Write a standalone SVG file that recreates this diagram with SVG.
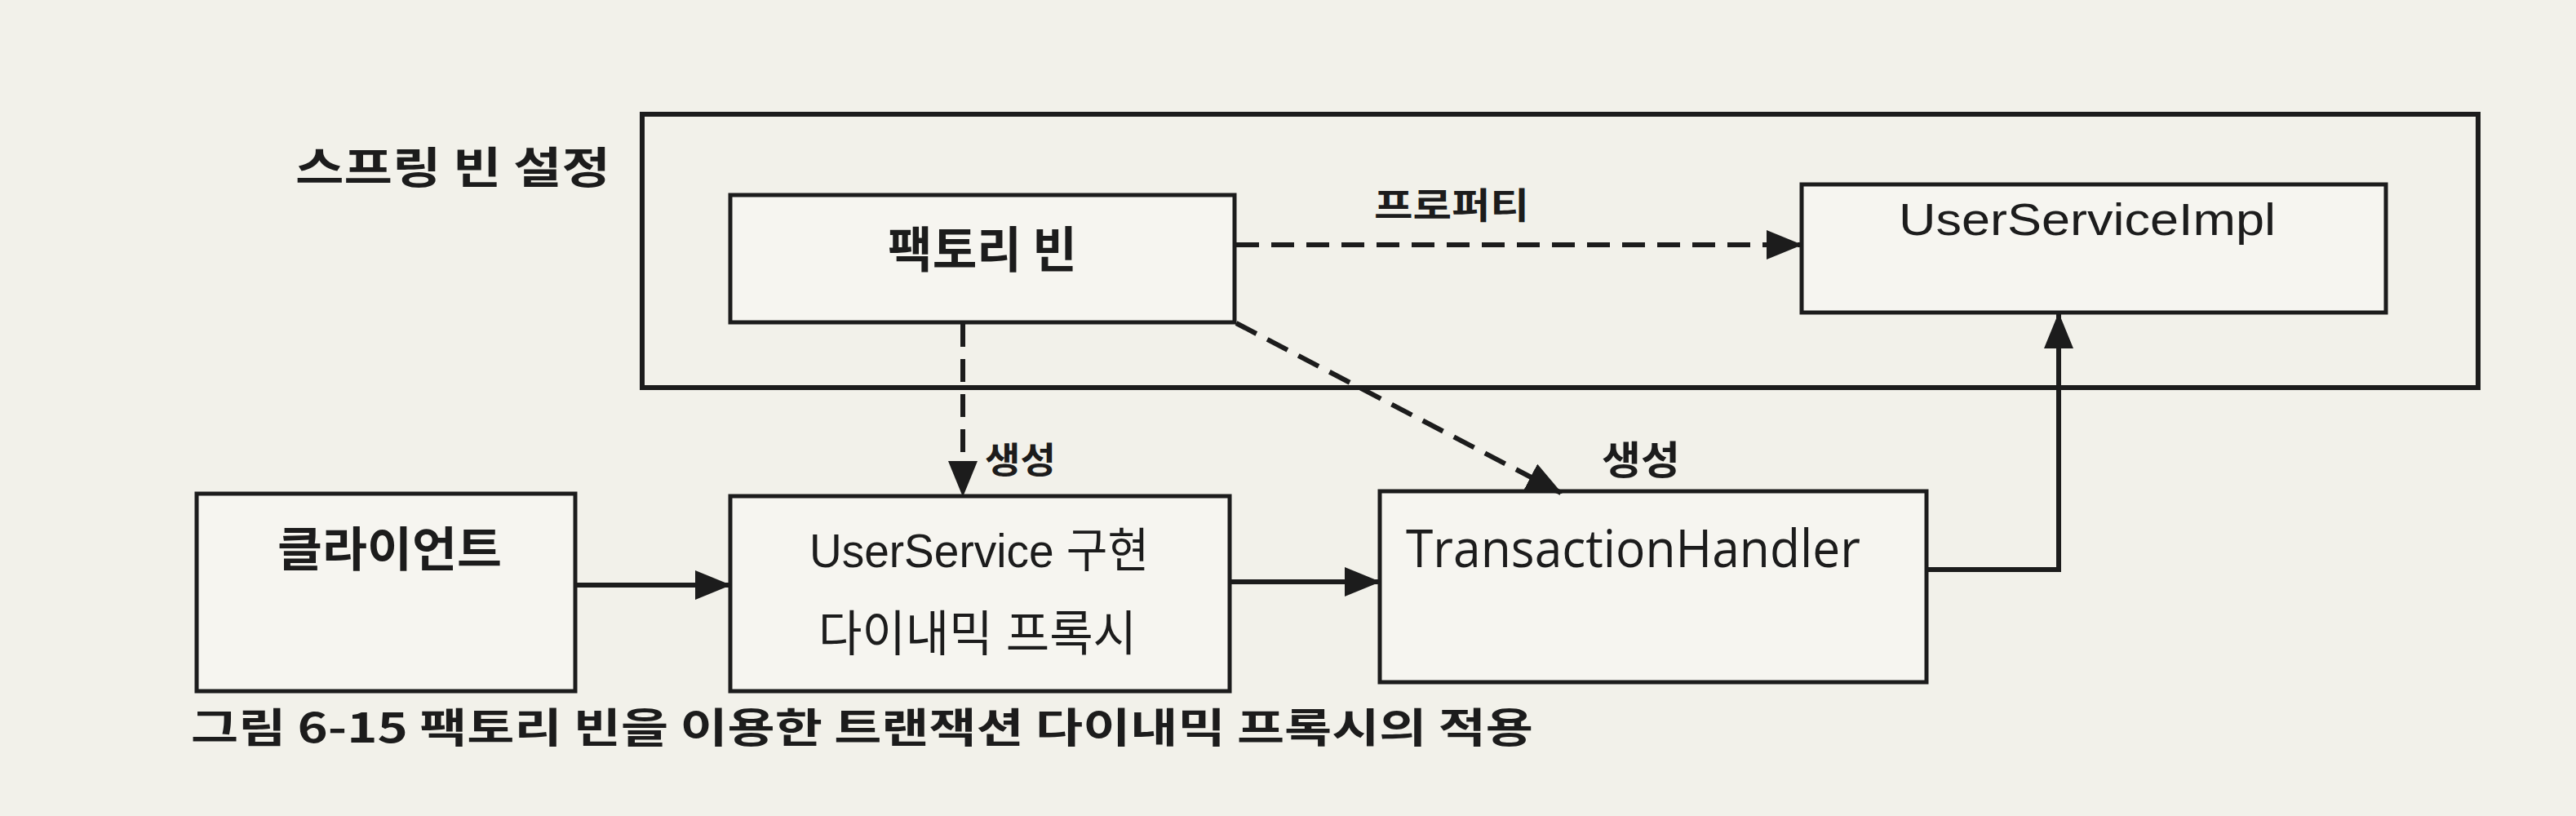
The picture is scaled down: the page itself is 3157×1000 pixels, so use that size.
<svg xmlns="http://www.w3.org/2000/svg" width="3157" height="1000" viewBox="0 0 3157 1000">
<style>
.bg{fill:#f2f1ea}
.frame{fill:none;stroke:#1c1c1c;stroke-width:6}
.box{fill:#f6f5f0;stroke:#1c1c1c;stroke-width:5}
.ko{font-family:"Noto Sans CJK KR","Noto Sans",sans-serif;fill:#1c1c1c}
.b{font-weight:bold}
.en{font-family:"Liberation Sans","Noto Sans CJK KR",sans-serif;fill:#1c1c1c}
.os{font-family:"Open Sans","Noto Sans",sans-serif;fill:#1c1c1c}
.solid{fill:none;stroke:#1c1c1c;stroke-width:6}
.dash{fill:none;stroke:#1c1c1c;stroke-width:6;stroke-dasharray:28 15}
</style>
<defs>
<marker id="ah" markerUnits="userSpaceOnUse" markerWidth="44" markerHeight="36" refX="42" refY="18" orient="auto">
<path d="M0,0 L44,18 L0,36 Z" fill="#1c1c1c"/>
</marker>
</defs>
<rect class="bg" x="0" y="0" width="3157" height="1000"/>

<g id="spring-config">
<rect class="frame" x="787" y="140" width="2250" height="335"/>
<text class="ko b" x="362" y="225" font-size="53" textLength="386" lengthAdjust="spacingAndGlyphs">스프링 빈 설정</text>
</g>

<g id="factory-bean">
<rect class="box" x="895" y="239" width="618" height="156"/>
<text class="ko b" x="1088" y="328" font-size="60" textLength="232" lengthAdjust="spacingAndGlyphs">팩토리 빈</text>
</g>

<g id="user-service-impl">
<rect class="box" x="2208" y="226" width="716" height="157"/>
<text class="en" x="2327" y="288" font-size="56" textLength="462" lengthAdjust="spacingAndGlyphs">UserServiceImpl</text>
</g>

<g id="client">
<rect class="box" x="241" y="605" width="464" height="242"/>
<text class="ko b" x="340" y="694" font-size="58" textLength="275" lengthAdjust="spacingAndGlyphs">클라이언트</text>
</g>

<g id="dynamic-proxy">
<rect class="box" x="895" y="608" width="612" height="239"/>
<text class="en" x="992" y="695" font-size="58" textLength="416" lengthAdjust="spacingAndGlyphs">UserService 구현</text>
<text class="en" x="1003" y="798" font-size="60" textLength="390" lengthAdjust="spacingAndGlyphs">다이내믹 프록시</text>
</g>

<g id="transaction-handler">
<rect class="box" x="1691" y="602" width="670" height="234"/>
<text class="os" x="1723" y="695" font-size="64" textLength="557" lengthAdjust="spacingAndGlyphs">TransactionHandler</text>
</g>

<g id="connectors">
<path class="dash" d="M1515,300 L2207,300" marker-end="url(#ah)"/>
<text class="ko b" x="1684" y="268" font-size="44" textLength="190" lengthAdjust="spacingAndGlyphs">프로퍼티</text>
<path class="dash" d="M1180,397 L1180,607" marker-end="url(#ah)"/>
<text class="ko b" x="1207" y="580" font-size="44" textLength="87" lengthAdjust="spacingAndGlyphs">생성</text>
<path class="dash" d="M1515,396 L1913,604" marker-end="url(#ah)"/>
<text class="ko b" x="1963" y="581" font-size="48" textLength="96" lengthAdjust="spacingAndGlyphs">생성</text>
<path class="solid" d="M705,717 L894,717" marker-end="url(#ah)"/>
<path class="solid" d="M1507,713 L1690,713" marker-end="url(#ah)"/>
<path class="solid" d="M2361,698 L2523,698 L2523,385" marker-end="url(#ah)"/>
</g>

<text class="ko b" x="234" y="910" font-size="50" textLength="1645" lengthAdjust="spacingAndGlyphs">그림 6-15 팩토리 빈을 이용한 트랜잭션 다이내믹 프록시의 적용</text>
</svg>
